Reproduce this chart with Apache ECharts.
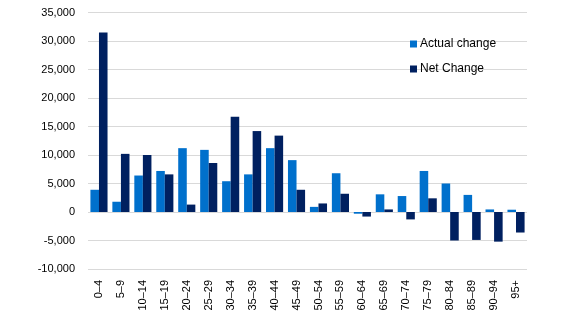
<!DOCTYPE html>
<html>
<head>
<meta charset="utf-8">
<script src="https://cdn.jsdelivr.net/npm/echarts@6/dist/echarts.min.js"></script>
<style>html,body{margin:0;padding:0;background:#fff;}#c{width:574px;height:329px;}</style>
</head>
<body>
<div id="c"></div>
<script>
var categories = ['0\u20134','5\u20139','10\u201314','15\u201319','20\u201324','25\u201329','30\u201334','35\u201339','40\u201344','45\u201349','50\u201354','55\u201359','60\u201364','65\u201369','70\u201374','75\u201379','80\u201384','85\u201389','90\u201394','95+'];
var actualChange = [3900,1800,6400,7200,11200,10900,5400,6600,11200,9100,900,6800,-300,3100,2800,7200,5000,3000,450,400];
var netChange = [31500,10200,10000,6600,1300,8600,16700,14200,13400,3900,1500,3200,-800,450,-1300,2400,-5000,-4900,-5200,-3600];
var seriesNames = ['Actual change','Net Change'];

var chart = echarts.init(document.getElementById('c'), null, {renderer:'canvas'});
var font = 'Liberation Sans, Arial, sans-serif';
chart.setOption({
  animation: false,
  backgroundColor: '#ffffff',
  grid: {left: 88, right: 47, top: 12.5, bottom: 60, containLabel: false},
  legend: {
    orient: 'vertical', left: 405, top: 33,
    itemWidth: 7, itemHeight: 7, itemGap: 13,
    icon: 'rect',
    textStyle: {fontFamily: font, fontSize: 12, color: '#000', padding: [0,0,0,-2]},
    data: seriesNames
  },
  xAxis: {
    type: 'category', data: categories,
    axisLine: {show: false}, axisTick: {show: false},
    axisLabel: {rotate: 90, interval: 0, margin: 11, fontFamily: font, fontSize: 11, color: '#000'}
  },
  yAxis: {
    type: 'value', min: -10000, max: 35000, interval: 5000,
    axisLine: {show: false}, axisTick: {show: false},
    splitLine: {lineStyle: {color: '#D9D9D9', width: 1}},
    axisLabel: {margin: 13, fontFamily: font, fontSize: 11, color: '#000',
      formatter: function(v){ return v.toLocaleString('en-US'); }}
  },
  series: [
    {name: seriesNames[0], type: 'bar', data: actualChange, barGap: '0%', barCategoryGap: '22%',
     itemStyle: {color: '#0070CC'}},
    {name: seriesNames[1], type: 'bar', data: netChange, barGap: '0%', barCategoryGap: '22%',
     itemStyle: {color: '#002060'}}
  ]
});
</script>
</body>
</html>
